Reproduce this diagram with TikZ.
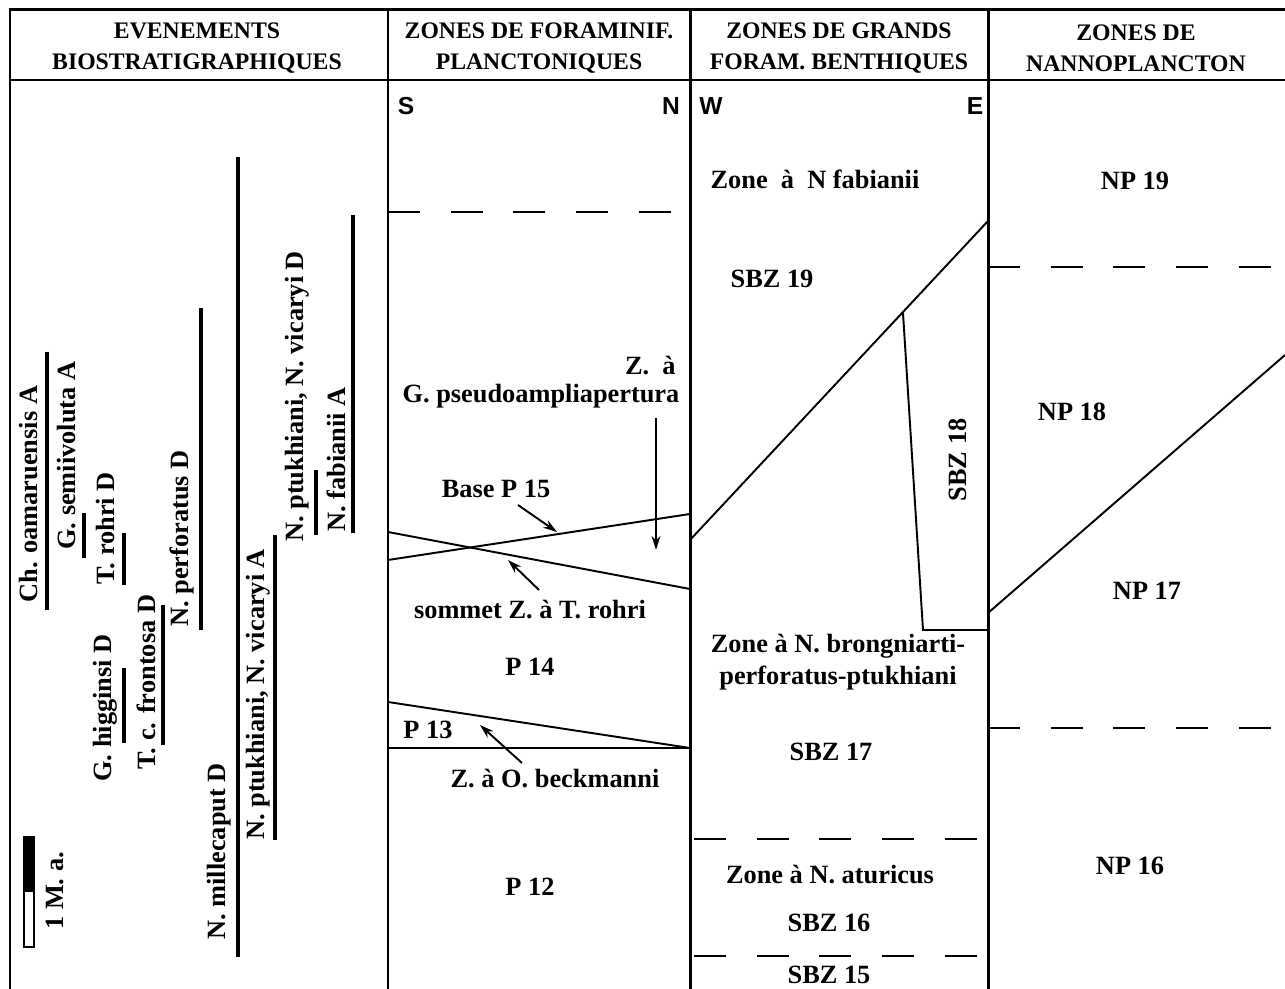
\documentclass[tikz,border=0pt]{standalone}
\usepackage{fontspec}
\setmainfont{Liberation Serif}
\newfontfamily\dirfont{Liberation Sans}
\usetikzlibrary{arrows.meta}

\begin{document}
\begin{tikzpicture}[x=0.02cm, y=-0.02cm,
  every node/.style={font=\bfseries\fontsize{15}{18}\selectfont, inner sep=0pt},
  head/.style={font=\bfseries\fontsize{13.5}{17.5}\selectfont, align=center},
  dir/.style={font=\dirfont\bfseries\fontsize{14}{16}\selectfont},
  event/.style={rotate=90, anchor=west},
  frame/.style={line width=1.7pt},
  zline/.style={line width=1.1pt},
  zdash/.style={line width=1.1pt, dash pattern=on 18.1pt off 17.6pt},
  bar/.style={line width=2.8pt},
  arr/.style={line width=1.1pt, -{Stealth[length=8pt,width=5pt]}}
]
  \useasboundingbox (0,0) rectangle (1285,989);

  % Frame and columns
  \draw[frame] (10,989) -- (10,10) -- (1285,10);
  \draw[frame] (10,80) -- (1285,80);
  \draw[frame] (388,10) -- (388,989);
  \draw[frame] (690,10) -- (690,989);
  \draw[frame] (988,10) -- (988,989);

  % Headers
  \node[head] (hevt) at (197,48) {EVENEMENTS\\BIOSTRATIGRAPHIQUES};
  \node[head] (hpla) at (539,48) {ZONES DE FORAMINIF.\\PLANCTONIQUES};
  \node[head] (hben) at (839,48) {ZONES DE GRANDS\\FORAM. BENTHIQUES};
  \node[head] (hnan) at (1136,48) {ZONES DE\\NANNOPLANCTON};

  \node[dir] (s) at (406,106) {S};
  \node[dir] (n) at (671,106) {N};
  \node[dir] (w) at (711,106) {W};
  \node[dir] (e) at (975,106) {E};

  % Biostratigraphic events
  \node[event] (oama) at (29,603) {Ch. oamaruensis A};
  \node[event] (semi) at (67,550) {G. semiivoluta A};
  \node[event] (rohr) at (106,585) {T. rohri D};
  \node[event] (higg) at (105,782) {G. higginsi D};
  \node[event] (fron) at (146,770) {T. c. frontosa D};
  \node[event] (perf) at (182,627) {N. perforatus D};
  \node[event] (mill) at (219,940) {N. millecaput D};
  \node[event] (ptka) at (258,840) {N. ptukhiani, N. vicaryi A};
  \node[event] (ptkd) at (297,542) {N. ptukhiani, N. vicaryi D};
  \node[event] (fabi) at (336,532) {N. fabianii A};

  \draw[bar] (47,352) -- (47,610);
  \draw[bar] (84,513) -- (84,558);
  \draw[bar] (124,533) -- (124,585);
  \draw[bar] (124,668) -- (124,743);
  \draw[bar] (163,605) -- (163,745);
  \draw[bar] (201,308) -- (201,630);
  \draw[bar] (238,157) -- (238,957);
  \draw[bar] (275,535) -- (275,840);
  \draw[bar] (316,470) -- (316,535);
  \draw[bar] (353,215) -- (353,533);

  % Scale bar
  \fill (24,837) rectangle (34,892);
  \draw[line width=0.9pt] (24,837) rectangle (34,947);
  \node[event] (scale) at (55,930) {1 M. a.};

  % Planktonic foraminifera zones
  \draw[zdash] (388,212) -- (690,212);
  \draw[zline] (388,560) -- (690,514);
  \draw[zline] (388,532) -- (690,589);
  \draw[zline] (388,702) -- (690,748);
  \draw[zline] (388,748) -- (690,748);

  \node[anchor=east] (za) at (676,366) {Z.\ \ à};
  \node (pseu) at (541,396) {G. pseudoampliapertura};
  \node (base) at (496,489) {Base P 15};
  \node (somm) at (530,610) {sommet Z. à T. rohri};
  \node (p14) at (530,667) {P 14};
  \node (p13) at (428,730) {P 13};
  \node (beck) at (555,779) {Z. à O. beckmanni};
  \node (p12) at (530,887) {P 12};

  \coordinate (pseuS) at (656,418);
  \coordinate (pseuE) at (656,550);
  \coordinate (baseS) at (518,505);
  \coordinate (baseE) at (557,532);
  \coordinate (sommS) at (539,590);
  \coordinate (sommE) at (508,560);
  \coordinate (beckS) at (522,763);
  \coordinate (beckE) at (480,725);
  \draw[arr] (pseuS) -- (pseuE);
  \draw[arr] (baseS) -- (baseE);
  \draw[arr] (sommS) -- (sommE);
  \draw[arr] (beckS) -- (beckE);

  % Larger benthic foraminifera zones
  \draw[zline] (690,540) -- (988,221);
  \draw[zline] (903,313) -- (923,630) -- (988,630);
  \draw[zdash, dash phase=-2.3pt] (690,839) -- (988,839);
  \draw[zdash, dash phase=-2.3pt] (690,956) -- (988,956);

  \node (fabz) at (815,179) {Zone\ \ à\ \ N fabianii};
  \node (sbz19) at (772,279) {SBZ 19};
  \node[rotate=90] (sbz18) at (958,460) {SBZ 18};
  \node[align=center] (brong) at (838,662) {Zone à N. brongniarti-\\perforatus-ptukhiani};
  \node (sbz17) at (831,752) {SBZ 17};
  \node (atur) at (830,875) {Zone à N. aturicus};
  \node (sbz16) at (829,923) {SBZ 16};
  \node (sbz15) at (829,975) {SBZ 15};

  % Nannoplankton zones
  \draw[zdash] (988,267) -- (1285,267);
  \draw[zline] (988,613) -- (1285,355);
  \draw[zdash] (988,728) -- (1285,728);

  \node (np19) at (1135,181) {NP 19};
  \node (np18) at (1072,412) {NP 18};
  \node (np17) at (1147,591) {NP 17};
  \node (np16) at (1130,866) {NP 16};
\end{tikzpicture}
\end{document}
